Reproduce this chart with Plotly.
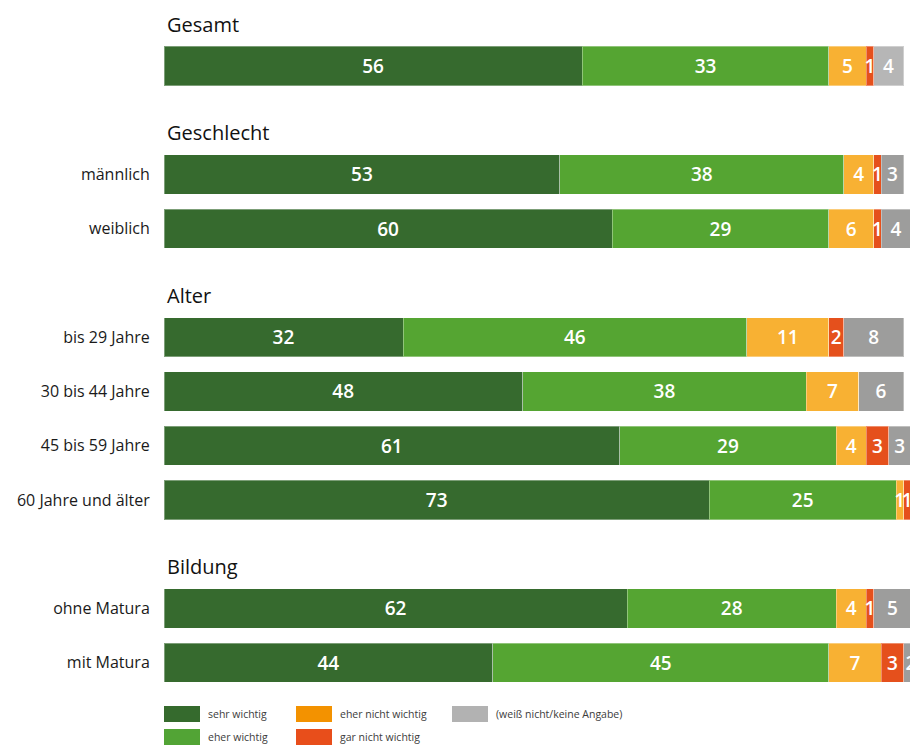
import plotly.graph_objects as go

# ---- data ----
groups = ["Gesamt", "Geschlecht", "Alter", "Bildung"]
categories = ["", "männlich", "weiblich", "bis 29 Jahre", "30 bis 44 Jahre",
              "45 bis 59 Jahre", "60 Jahre und älter", "ohne Matura", "mit Matura"]
cat_group = ["Gesamt", "Geschlecht", "Geschlecht", "Alter", "Alter", "Alter", "Alter",
             "Bildung", "Bildung"]
series_names = ["sehr wichtig", "eher wichtig", "eher nicht wichtig",
                "gar nicht wichtig", "(weiß nicht/keine Angabe)"]
sehr_wichtig = [56, 53, 60, 32, 48, 61, 73, 62, 44]
eher_wichtig = [33, 38, 29, 46, 38, 29, 25, 28, 45]
eher_nicht_wichtig = [5, 4, 6, 11, 7, 4, 1, 4, 7]
gar_nicht_wichtig = [1, 1, 1, 2, 0, 3, 1, 1, 3]
weiss_nicht = [4, 3, 4, 8, 6, 3, 0, 5, 2]
series_values = [sehr_wichtig, eher_wichtig, eher_nicht_wichtig, gar_nicht_wichtig, weiss_nicht]

bar_colors = ["#366a2e", "#55a532", "#f8b133", "#e5501c", "#9d9d9c"]
legend_colors = ["#356a2d", "#52a435", "#f39200", "#e84e1b", "#b2b2b2"]

# ---- layout positions (slots) ----
positions = []
header_pos = {}
slot = 0
prev = None
for c, g in zip(categories, cat_group):
    if g != prev:
        if prev is not None:
            slot += 1
        header_pos[g] = slot
        prev = g
    positions.append(slot)
    slot += 1

W, H = 910, 737
L, R, T, B = 156, 0, 0, 45
y_range = [11.687, -1.069]

fig = go.Figure()
for name, vals, col in zip(series_names, series_values, bar_colors):
    colors = [col] * len(vals)
    if name.startswith("(weiß"):
        colors[0] = "#b6b6b6"
    fig.add_trace(go.Bar(
        x=vals, y=positions, orientation="h", name=name,
        marker=dict(color=colors, line=dict(color="rgba(255,255,255,0.35)", width=1)),
        width=0.72,
        text=[str(v) if v else "" for v in vals],
        textposition="inside", insidetextanchor="middle", textangle=0,
        textfont=dict(color="white", size=19, family="Open Sans", weight=600),
        showlegend=False, hoverinfo="x+y",
    ))

annotations = []
for g in groups:
    annotations.append(dict(
        x=0, xref="x", y=header_pos[g] - 0.77, yref="y", text=g,
        showarrow=False, xanchor="left", yanchor="middle", xshift=1,
        font=dict(size=20, color="#111111", family="Open Sans", weight=500)))

# legend built from series names/colors (page px -> figure paper coords)
def px_x(px):
    return (px - 8 - L) / (W - L - R)

def px_y(py):
    return (H - B - (py - 8)) / (H - T - B)

shapes = []
leg_cols = [164, 296, 452]
leg_rows = [706, 729]
order = [(0, 0, 0), (1, 0, 1), (2, 1, 0), (3, 1, 1), (4, 2, 0)]
for idx, ci, ri in order:
    x0 = leg_cols[ci]
    y0 = leg_rows[ri]
    shapes.append(dict(type="rect", xref="paper", yref="paper",
                       x0=px_x(x0), x1=px_x(x0 + 36), y0=px_y(y0 + 16), y1=px_y(y0),
                       fillcolor=legend_colors[idx], line=dict(width=0)))
    annotations.append(dict(xref="paper", yref="paper", x=px_x(x0 + 42), y=px_y(y0 + 8),
                            text=series_names[idx], showarrow=False,
                            xanchor="left", yanchor="middle",
                            font=dict(size=10.5, color="#3c3c3b", family="Open Sans")))

fig.update_layout(
    width=W, height=H, barmode="stack",
    margin=dict(l=L, r=R, t=T, b=B),
    paper_bgcolor="white", plot_bgcolor="white",
    xaxis=dict(range=[0, (W - L - R) / 7.47], visible=False, fixedrange=True),
    yaxis=dict(range=y_range, tickvals=[p for p, c in zip(positions, categories) if c],
               ticktext=[c for c in categories if c],
               showgrid=False, zeroline=False, showline=False,
               ticks="outside", ticklen=10, tickcolor="rgba(0,0,0,0)",
               tickfont=dict(size=16, color="#1a1a1a", family="Open Sans")),
    uniformtext=dict(minsize=19, mode="show"),
    annotations=annotations, shapes=shapes,
    font=dict(family="Open Sans"),
)

fig.write_html("out.html")
